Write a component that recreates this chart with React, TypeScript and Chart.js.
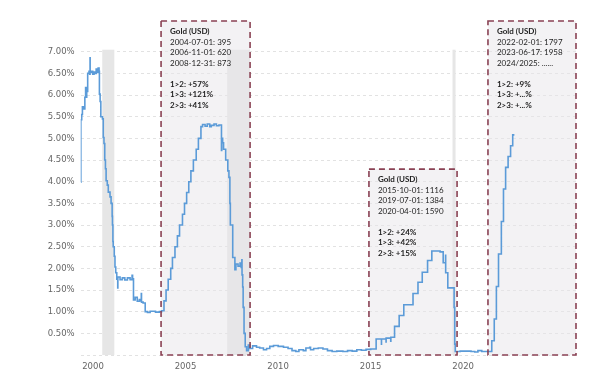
import { useEffect, useRef } from 'react';
import { Chart, registerables } from 'chart.js';

Chart.register(...registerables);

// Effective federal funds rate (%), change points
const rateDates = [
  '1999-12-31', '2000-01-03', '2000-01-20', '2000-02-03', '2000-02-22', '2000-03-22', '2000-04-06', '2000-04-18',
  '2000-04-28', '2000-05-17', '2000-06-12', '2000-06-28', '2000-07-03', '2000-07-05', '2000-08-01', '2000-08-25',
  '2000-09-20', '2000-10-15', '2000-11-01', '2000-11-25', '2000-12-10', '2000-12-28', '2001-01-04', '2001-01-18',
  '2001-02-01', '2001-03-05', '2001-03-21', '2001-04-04', '2001-04-19', '2001-05-03', '2001-05-16', '2001-06-08',
  '2001-06-28', '2001-08-01', '2001-08-22', '2001-09-12', '2001-09-18', '2001-09-27', '2001-10-03', '2001-10-24',
  '2001-11-07', '2001-11-22', '2001-12-12', '2001-12-31', '2002-01-03', '2002-02-15', '2002-04-01', '2002-05-20',
  '2002-07-10', '2002-09-01', '2002-10-10', '2002-10-20', '2002-11-07', '2002-12-10', '2003-01-20', '2003-03-01',
  '2003-04-01', '2003-04-10', '2003-04-14', '2003-05-15', '2003-06-26', '2003-08-10', '2003-10-01', '2004-01-15',
  '2004-04-01', '2004-05-15', '2004-07-01', '2004-08-11', '2004-09-22', '2004-11-11', '2004-12-15', '2005-02-03',
  '2005-03-23', '2005-05-04', '2005-07-01', '2005-08-10', '2005-09-21', '2005-11-02', '2005-12-14', '2006-02-01',
  '2006-03-29', '2006-05-11', '2006-06-30', '2006-08-01', '2006-09-20', '2006-11-01', '2006-12-20', '2007-01-20',
  '2007-03-15', '2007-05-01', '2007-06-20', '2007-08-09', '2007-08-14', '2007-09-01', '2007-09-19', '2007-10-31',
  '2007-12-12', '2008-01-03', '2008-01-22', '2008-01-31', '2008-03-18', '2008-04-30', '2008-05-20', '2008-07-01',
  '2008-08-10', '2008-09-01', '2008-09-15', '2008-09-18', '2008-10-01', '2008-10-10', '2008-10-28', '2008-11-20',
  '2008-12-17', '2009-01-20', '2009-02-20', '2009-04-15', '2009-07-01', '2009-09-01', '2009-11-15', '2010-01-15',
  '2010-03-20', '2010-06-01', '2010-09-01', '2010-12-15', '2011-03-15', '2011-06-01', '2011-08-15', '2011-10-15',
  '2012-01-10', '2012-03-01', '2012-05-15', '2012-06-01', '2012-08-01', '2012-11-01', '2013-02-01', '2013-05-01',
  '2013-08-01', '2013-11-01', '2014-03-01', '2014-06-01', '2014-09-01', '2014-12-01', '2015-03-01', '2015-06-01',
  '2015-09-01', '2015-12-17', '2016-03-31', '2016-04-01', '2016-06-30', '2016-07-01', '2016-09-30', '2016-10-03',
  '2016-12-15', '2017-03-16', '2017-06-15', '2017-12-14', '2018-03-22', '2018-06-14', '2018-09-27', '2018-12-20',
  '2019-06-01', '2019-08-01', '2019-09-17', '2019-09-19', '2019-10-31', '2020-03-04', '2020-03-16', '2020-03-26',
  '2020-07-01', '2020-10-15', '2021-02-01', '2021-04-15', '2021-06-17', '2021-09-01', '2022-01-01', '2022-03-17',
  '2022-05-05', '2022-06-16', '2022-07-28', '2022-09-22', '2022-11-03', '2022-12-15', '2023-02-02', '2023-03-23',
  '2023-05-04', '2023-06-06',
];
const rateValues = [
  3.99, 5.43, 5.55, 5.73, 5.68, 5.95, 6.17, 5.95,
  6.08, 6.5, 6.55, 6.48, 6.86, 6.52, 6.55, 6.48,
  6.53, 6.5, 6.6, 6.52, 6.62, 6.55, 6.02, 5.85,
  5.5, 5.45, 5.02, 4.88, 4.5, 4.3, 4.02, 3.92,
  3.76, 3.65, 3.5, 3.2, 3.0, 2.62, 2.5, 2.28,
  2.03, 1.9, 1.75, 1.55, 1.8, 1.74, 1.78, 1.73,
  1.78, 1.74, 1.84, 1.76, 1.27, 1.33, 1.24, 1.28,
  1.25, 1.42, 1.22, 1.2, 1.0, 0.98, 1.01, 0.99,
  1.0, 1.02, 1.25, 1.5, 1.75, 2.0, 2.25, 2.5,
  2.75, 3.0, 3.25, 3.5, 3.75, 4.0, 4.25, 4.5,
  4.75, 5.0, 5.27, 5.32, 5.28, 5.33, 5.27, 5.3,
  5.33, 5.29, 5.31, 4.72, 5.0, 4.9, 4.75, 4.5,
  4.25, 4.1, 3.5, 3.0, 2.25, 1.97, 2.1, 2.05,
  2.12, 2.02, 2.2, 1.85, 1.57, 1.1, 0.5, 0.19,
  0.1, 0.23, 0.15, 0.21, 0.18, 0.16, 0.12, 0.15,
  0.2, 0.22, 0.2, 0.18, 0.15, 0.1, 0.08, 0.12,
  0.1, 0.16, 0.18, 0.12, 0.15, 0.16, 0.14, 0.1,
  0.08, 0.09, 0.08, 0.1, 0.09, 0.12, 0.11, 0.13,
  0.14, 0.37, 0.25, 0.37, 0.3, 0.39, 0.32, 0.41,
  0.66, 0.91, 1.16, 1.42, 1.68, 1.91, 2.18, 2.4,
  2.38, 2.13, 2.3, 1.9, 1.55, 1.1, 0.25, 0.08,
  0.09, 0.09, 0.08, 0.07, 0.1, 0.08, 0.08, 0.33,
  0.83, 1.58, 2.33, 3.08, 3.83, 4.33, 4.58, 4.83,
  5.08, 5.08,
];

const yearTicks = [2000, 2005, 2010, 2015, 2020];
const yTickValues = [0, 0.5, 1, 1.5, 2, 2.5, 3, 3.5, 4, 4.5, 5, 5.5, 6, 6.5, 7];

// Recessions (grey bands)
const recessionStarts = ['2001-03-01', '2007-12-01', '2020-02-01'];
const recessionEnds = ['2001-10-25', '2009-02-24', '2020-04-01'];

// Annotation boxes
const boxStarts = ['2004-05-04', '2015-07-28', '2022-01-01'];
const boxEnds = ['2009-02-24', '2020-05-01', '2026-10-04'];
const boxTops = [7.71, 4.29, 7.71];
const boxTitles = ['Gold (USD)', 'Gold (USD)', 'Gold (USD)'];
const boxPrices = [
  ['2004-07-01: 395', '2006-11-01: 620', '2008-12-31: 873'],
  ['2015-10-01: 1116', '2019-07-01: 1384', '2020-04-01: 1590'],
  ['2022-02-01: 1797', '2023-06-17: 1958', '2024/2025: ......'],
];
const boxChanges = [
  ['1>2: +57%', '1>3: +121%', '2>3: +41%'],
  ['1>2: +24%', '1>3: +42%', '2>3: +15%'],
  ['1>2: +9%', '1>3: +...%', '2>3: +...%'],
];

const toYear = (s: string) => {
  const [yy, mm, dd] = s.split('-').map(Number);
  const start = Date.UTC(yy, 0, 1);
  const t = Date.UTC(yy, mm - 1, dd);
  const end = Date.UTC(yy + 1, 0, 1);
  return yy + (t - start) / (end - start);
};

const TICK_SHIFT = 0.66; // year labels sit ~8 months into each year in the reference

const annotationPlugin = {
  id: 'goldBoxes',
  beforeDatasetsDraw(chart: any) {
    const { ctx, chartArea, scales } = chart;
    const x = scales.x;
    const y = scales.y;
    ctx.save();
    ctx.fillStyle = '#e6e6e6';
    for (let i = 0; i < recessionStarts.length; i++) {
      const x0 = x.getPixelForValue(toYear(recessionStarts[i]));
      const x1 = x.getPixelForValue(toYear(recessionEnds[i]));
      ctx.fillRect(x0, chartArea.top - 2, x1 - x0, chartArea.bottom - chartArea.top + 2);
    }
    ctx.fillStyle = 'rgba(232,229,234,0.5)';
    for (let i = 0; i < boxStarts.length; i++) {
      const x0 = x.getPixelForValue(toYear(boxStarts[i]));
      const x1 = x.getPixelForValue(toYear(boxEnds[i]));
      const yt = y.getPixelForValue(boxTops[i]);
      const yb = y.getPixelForValue(0);
      ctx.fillRect(x0, yt, x1 - x0, yb - yt);
    }
    ctx.restore();
  },
  afterDatasetsDraw(chart: any) {
    const { ctx, scales } = chart;
    const x = scales.x;
    const y = scales.y;
    ctx.save();
    ctx.strokeStyle = '#8a4254';
    ctx.lineWidth = 1.6;
    ctx.setLineDash([6, 4]);
    for (let i = 0; i < boxStarts.length; i++) {
      const x0 = x.getPixelForValue(toYear(boxStarts[i]));
      const x1 = x.getPixelForValue(toYear(boxEnds[i]));
      const yt = y.getPixelForValue(boxTops[i]);
      const yb = y.getPixelForValue(0);
      ctx.strokeRect(x0, yt, x1 - x0, yb - yt);
    }
    ctx.setLineDash([]);
    ctx.textBaseline = 'middle';
    ctx.textAlign = 'left';
    ctx.fillStyle = '#1e1e1e';
    const lh = 10.5;
    for (let i = 0; i < boxStarts.length; i++) {
      const x0 = x.getPixelForValue(toYear(boxStarts[i])) + 9;
      let ty = y.getPixelForValue(boxTops[i]) + 10.5;
      ctx.font = 'bold 8px Lato';
      ctx.fillText(boxTitles[i], x0, ty);
      ctx.font = '8px Lato';
      for (const s of boxPrices[i]) {
        ty += lh;
        ctx.fillText(s, x0, ty);
      }
      ty += lh;
      ctx.font = 'bold 8px Lato';
      for (const s of boxChanges[i]) {
        ty += lh;
        ctx.fillText(s, x0, ty);
      }
    }
    ctx.restore();
  },
};

export default function App() {
  const ref = useRef<HTMLCanvasElement | null>(null);
  useEffect(() => {
    if (!ref.current) return;
    const points = rateDates.map((d, i) => ({ x: toYear(d), y: rateValues[i] }));
    const chart = new Chart(ref.current, {
      type: 'line',
      data: {
        datasets: [
          {
            data: points,
            borderColor: '#5b9bd8',
            borderWidth: 1.6,
            pointRadius: 0,
            stepped: true,
            fill: false,
          },
        ],
      },
      options: {
        animation: false,
        responsive: false,
        layout: { padding: { top: 43.7, right: 25, left: 0, bottom: 0 } },
        plugins: { legend: { display: false }, tooltip: { enabled: false } },
        scales: {
          x: {
            type: 'linear',
            min: toYear('1999-12-31'),
            max: toYear('2026-10-04'),
            grid: { display: false, drawTicks: false },
            border: { display: false },
            afterFit: (s: any) => {
              s.height = 22;
            },
            afterBuildTicks: (s: any) => {
              s.ticks = yearTicks.map((v) => ({ value: v + TICK_SHIFT }));
            },
            ticks: {
              padding: 7,
              color: '#666',
              font: { family: 'DejaVu Sans', size: 8.5 },
              maxRotation: 0,
              autoSkip: false,
              callback: (_v: any, i: number) => String(yearTicks[i]),
            },
          },
          y: {
            min: 0,
            max: 7,
            afterFit: (s: any) => {
              s.width = 72.7;
            },
            afterBuildTicks: (s: any) => {
              s.ticks = yTickValues.map((v) => ({ value: v }));
            },
            grid: { color: '#e2e2e2', drawTicks: false, lineWidth: 1 },
            border: { display: false, dash: [3, 3] },
            ticks: {
              padding: 6,
              color: '#666',
              font: { family: 'DejaVu Sans', size: 8.5 },
              callback: (v: any) => (Number(v) === 0 ? '' : Number(v).toFixed(2) + '%'),
            },
          },
        },
      },
      plugins: [annotationPlugin],
    });
    return () => chart.destroy();
  }, []);
  return (
    <div style={{ width: 593, height: 369 }}>
      <canvas ref={ref} width={593} height={369} />
    </div>
  );
}
